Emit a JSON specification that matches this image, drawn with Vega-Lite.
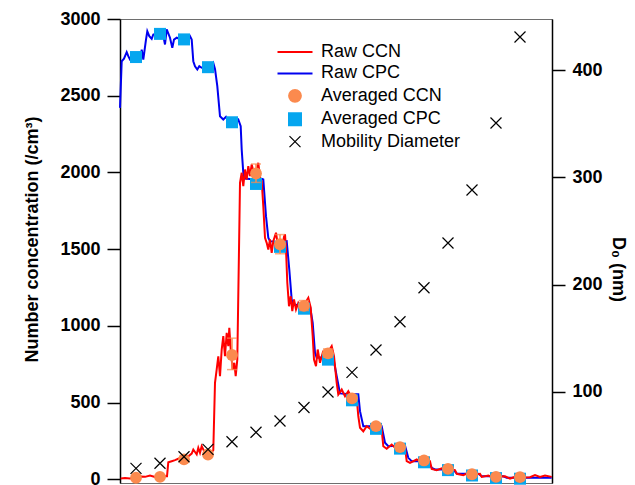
{
  "$schema": "https://vega.github.io/schema/vega-lite/v6.json",
  "width": 432,
  "height": 464,
  "autosize": {"type": "none"},
  "padding": {"left": 120, "top": 19, "right": 83, "bottom": 2},
  "background": "white",
  "config": {
    "view": {"stroke": "#6e6e6e", "strokeWidth": 1},
    "font": "Liberation Sans",
    "axis": {
      "grid": false,
      "domainColor": "black",
      "domainWidth": 1.5,
      "tickColor": "black",
      "tickWidth": 1.5,
      "tickSize": 13,
      "labelFont": "Liberation Sans",
      "labelFontSize": 18,
      "labelFontWeight": "bold",
      "labelColor": "black",
      "labelPadding": 7,
      "titleFont": "Liberation Sans",
      "titleFontSize": 18,
      "titleFontWeight": "bold",
      "titleColor": "black"
    },
    "legend": {
      "labelFont": "Liberation Sans",
      "labelFontSize": 18,
      "labelColor": "black",
      "symbolSize": 150,
      "labelOffset": 17,
      "rowPadding": 3.4
    }
  },
  "datasets": {
    "cpc": [
      {"t": 0, "cpc": 2421}, {"t": 1.7, "cpc": 2725}, {"t": 4, "cpc": 2741}, {"t": 6.7, "cpc": 2784},
      {"t": 8.3, "cpc": 2758}, {"t": 10, "cpc": 2736}, {"t": 13, "cpc": 2750}, {"t": 16, "cpc": 2752},
      {"t": 19, "cpc": 2748}, {"t": 20.7, "cpc": 2747}, {"t": 21.7, "cpc": 2801}, {"t": 23.3, "cpc": 2736},
      {"t": 26, "cpc": 2866}, {"t": 27.3, "cpc": 2920}, {"t": 29.3, "cpc": 2888}, {"t": 31.7, "cpc": 2871},
      {"t": 33.3, "cpc": 2899}, {"t": 37, "cpc": 2905}, {"t": 40, "cpc": 2903}, {"t": 43, "cpc": 2900},
      {"t": 45, "cpc": 2834}, {"t": 46.7, "cpc": 2932}, {"t": 50, "cpc": 2878}, {"t": 52.3, "cpc": 2812},
      {"t": 54, "cpc": 2866}, {"t": 56.7, "cpc": 2878}, {"t": 60, "cpc": 2870}, {"t": 64, "cpc": 2867},
      {"t": 68, "cpc": 2870}, {"t": 70, "cpc": 2888}, {"t": 71.7, "cpc": 2866}, {"t": 73.3, "cpc": 2725},
      {"t": 75, "cpc": 2692}, {"t": 77.3, "cpc": 2671}, {"t": 79.3, "cpc": 2692}, {"t": 81.7, "cpc": 2682},
      {"t": 85, "cpc": 2686}, {"t": 88, "cpc": 2686}, {"t": 91, "cpc": 2690}, {"t": 93.3, "cpc": 2714},
      {"t": 95, "cpc": 2675}, {"t": 97.3, "cpc": 2562}, {"t": 100, "cpc": 2366}, {"t": 103.3, "cpc": 2345},
      {"t": 106, "cpc": 2362}, {"t": 109, "cpc": 2330}, {"t": 112, "cpc": 2327}, {"t": 115, "cpc": 2330},
      {"t": 118.3, "cpc": 2345}, {"t": 120.7, "cpc": 2301}, {"t": 121.7, "cpc": 2149}, {"t": 123.3, "cpc": 1998},
      {"t": 124.5, "cpc": 1960}, {"t": 130, "cpc": 1958}, {"t": 136, "cpc": 1955}, {"t": 141.7, "cpc": 1958},
      {"t": 143.3, "cpc": 1954}, {"t": 146, "cpc": 1715}, {"t": 148.3, "cpc": 1574}, {"t": 150, "cpc": 1552},
      {"t": 160, "cpc": 1545}, {"t": 166.7, "cpc": 1552}, {"t": 169.3, "cpc": 1367}, {"t": 171.7, "cpc": 1172},
      {"t": 173.3, "cpc": 1139}, {"t": 180, "cpc": 1135}, {"t": 190, "cpc": 1128}, {"t": 192.7, "cpc": 1020},
      {"t": 195, "cpc": 824}, {"t": 196.7, "cpc": 792}, {"t": 205, "cpc": 795}, {"t": 213.3, "cpc": 792},
      {"t": 216.7, "cpc": 672}, {"t": 220, "cpc": 560}, {"t": 230, "cpc": 555}, {"t": 238.3, "cpc": 555},
      {"t": 240, "cpc": 444}, {"t": 243.3, "cpc": 346}, {"t": 252, "cpc": 346}, {"t": 261.7, "cpc": 346},
      {"t": 265, "cpc": 238}, {"t": 268.3, "cpc": 216}, {"t": 277, "cpc": 218}, {"t": 285, "cpc": 220},
      {"t": 288.3, "cpc": 140}, {"t": 291.7, "cpc": 118}, {"t": 300, "cpc": 118}, {"t": 308.3, "cpc": 118},
      {"t": 311.7, "cpc": 75}, {"t": 315, "cpc": 64}, {"t": 325, "cpc": 64}, {"t": 333.3, "cpc": 64},
      {"t": 336.7, "cpc": 38}, {"t": 348, "cpc": 36}, {"t": 358.3, "cpc": 36}, {"t": 361.7, "cpc": 20},
      {"t": 375, "cpc": 20}, {"t": 383.3, "cpc": 20}, {"t": 386.7, "cpc": 10}, {"t": 400, "cpc": 10},
      {"t": 415, "cpc": 11}, {"t": 431.7, "cpc": 10}
    ],
    "ccn": [
      {"t": 0.7, "ccn": 5}, {"t": 5, "ccn": 8}, {"t": 10, "ccn": 6}, {"t": 15, "ccn": 14},
      {"t": 20, "ccn": 18}, {"t": 25, "ccn": 16}, {"t": 30, "ccn": 25}, {"t": 35, "ccn": 15},
      {"t": 40, "ccn": 12}, {"t": 45, "ccn": 20}, {"t": 47, "ccn": 20}, {"t": 48.3, "ccn": 111},
      {"t": 51.7, "ccn": 118}, {"t": 55, "ccn": 125}, {"t": 58.3, "ccn": 134}, {"t": 61, "ccn": 140},
      {"t": 63.3, "ccn": 128}, {"t": 65, "ccn": 145}, {"t": 68.3, "ccn": 150}, {"t": 71.7, "ccn": 168},
      {"t": 73.3, "ccn": 194}, {"t": 76.7, "ccn": 162}, {"t": 78.3, "ccn": 205}, {"t": 80, "ccn": 173},
      {"t": 81.7, "ccn": 216}, {"t": 84, "ccn": 185}, {"t": 87.3, "ccn": 170}, {"t": 90, "ccn": 162},
      {"t": 93.3, "ccn": 190}, {"t": 95, "ccn": 629}, {"t": 96.7, "ccn": 716}, {"t": 98.3, "ccn": 802},
      {"t": 100, "ccn": 672}, {"t": 101.7, "ccn": 846}, {"t": 103.3, "ccn": 933}, {"t": 105, "ccn": 802},
      {"t": 106.7, "ccn": 955}, {"t": 108.3, "ccn": 868}, {"t": 109.3, "ccn": 987}, {"t": 111, "ccn": 820},
      {"t": 112.7, "ccn": 716}, {"t": 114.3, "ccn": 759}, {"t": 115.7, "ccn": 672}, {"t": 117.3, "ccn": 781},
      {"t": 119, "ccn": 1498}, {"t": 120, "ccn": 1932}, {"t": 121.7, "ccn": 1998}, {"t": 123.3, "ccn": 1910},
      {"t": 125, "ccn": 2019}, {"t": 126.7, "ccn": 1954}, {"t": 128.3, "ccn": 2041}, {"t": 130, "ccn": 1976},
      {"t": 131.7, "ccn": 2052}, {"t": 134, "ccn": 1990}, {"t": 136.7, "ccn": 2010}, {"t": 138.3, "ccn": 2063},
      {"t": 140, "ccn": 1965}, {"t": 141.7, "ccn": 1943}, {"t": 143.3, "ccn": 1780}, {"t": 145, "ccn": 1574},
      {"t": 146.7, "ccn": 1541}, {"t": 148.3, "ccn": 1498}, {"t": 150, "ccn": 1563}, {"t": 151.7, "ccn": 1476},
      {"t": 153.3, "ccn": 1552}, {"t": 156, "ccn": 1607}, {"t": 158, "ccn": 1520}, {"t": 160, "ccn": 1540},
      {"t": 162, "ccn": 1500}, {"t": 164, "ccn": 1580}, {"t": 165, "ccn": 1596}, {"t": 166, "ccn": 1498},
      {"t": 167.3, "ccn": 1281}, {"t": 169, "ccn": 1128}, {"t": 170.7, "ccn": 1193}, {"t": 172.3, "ccn": 1096},
      {"t": 174, "ccn": 1172}, {"t": 176, "ccn": 1107}, {"t": 178.3, "ccn": 1150}, {"t": 181, "ccn": 1120},
      {"t": 184.3, "ccn": 1140}, {"t": 188.3, "ccn": 1183}, {"t": 190.7, "ccn": 1118}, {"t": 192.7, "ccn": 933},
      {"t": 194, "ccn": 781}, {"t": 196, "ccn": 737}, {"t": 197.7, "ccn": 846}, {"t": 200, "ccn": 759},
      {"t": 202.7, "ccn": 824}, {"t": 205, "ccn": 790}, {"t": 208, "ccn": 830}, {"t": 211.7, "ccn": 868},
      {"t": 214, "ccn": 802}, {"t": 216.7, "ccn": 629}, {"t": 218.3, "ccn": 553}, {"t": 221.7, "ccn": 585},
      {"t": 225, "ccn": 541}, {"t": 228.3, "ccn": 574}, {"t": 232, "ccn": 530}, {"t": 236.7, "ccn": 531},
      {"t": 238.3, "ccn": 411}, {"t": 240, "ccn": 336}, {"t": 243.3, "ccn": 313}, {"t": 246.7, "ccn": 346},
      {"t": 250, "ccn": 330}, {"t": 255, "ccn": 335}, {"t": 261.7, "ccn": 324}, {"t": 263.3, "ccn": 216},
      {"t": 266.7, "ccn": 199}, {"t": 271.7, "ccn": 227}, {"t": 276, "ccn": 200}, {"t": 280, "ccn": 210},
      {"t": 285, "ccn": 205}, {"t": 286.7, "ccn": 118}, {"t": 290, "ccn": 107}, {"t": 296.7, "ccn": 129},
      {"t": 300, "ccn": 115}, {"t": 305, "ccn": 120}, {"t": 310, "ccn": 118}, {"t": 311.7, "ccn": 68},
      {"t": 316.7, "ccn": 60}, {"t": 323.3, "ccn": 75}, {"t": 328, "ccn": 65}, {"t": 335, "ccn": 60},
      {"t": 336.7, "ccn": 36}, {"t": 343.3, "ccn": 27}, {"t": 348.3, "ccn": 42}, {"t": 353, "ccn": 30},
      {"t": 360, "ccn": 36}, {"t": 361.7, "ccn": 16}, {"t": 368.3, "ccn": 25}, {"t": 373.3, "ccn": 10},
      {"t": 378, "ccn": 18}, {"t": 385, "ccn": 20}, {"t": 390, "ccn": 5}, {"t": 396.7, "ccn": 20},
      {"t": 402, "ccn": 12}, {"t": 410, "ccn": 14}, {"t": 415, "ccn": 27}, {"t": 420, "ccn": 16},
      {"t": 425, "ccn": 25}, {"t": 431.7, "ccn": 16}
    ],
    "avg": [
      {"t": 16, "ccn": 10, "cpc": 2752, "d0": 28.6},
      {"t": 40, "ccn": 16, "cpc": 2903, "d0": 33.3},
      {"t": 64, "ccn": 130, "cpc": 2867, "d0": 39.4},
      {"t": 88, "ccn": 162, "cpc": 2686, "d0": 46.3},
      {"t": 112, "ccn": 810, "cpc": 2327, "d0": 53.4},
      {"t": 136, "ccn": 1993, "cpc": 1925, "d0": 62.2},
      {"t": 160, "ccn": 1532, "cpc": 1515, "d0": 72.7},
      {"t": 184, "ccn": 1130, "cpc": 1112, "d0": 85.3},
      {"t": 208, "ccn": 821, "cpc": 780, "d0": 99.8},
      {"t": 232, "ccn": 528, "cpc": 515, "d0": 118.1},
      {"t": 256, "ccn": 347, "cpc": 329, "d0": 138.9},
      {"t": 280, "ccn": 210, "cpc": 200, "d0": 165.3},
      {"t": 304, "ccn": 123, "cpc": 111, "d0": 197.0},
      {"t": 328, "ccn": 68, "cpc": 60, "d0": 238.7},
      {"t": 352, "ccn": 33, "cpc": 25, "d0": 288.1},
      {"t": 376, "ccn": 16, "cpc": 8, "d0": 350.6},
      {"t": 400, "ccn": 14, "cpc": 4, "d0": 430.8}
    ],
    "ccnErr": [
      {"t": 112, "lo": 715, "hi": 920},
      {"t": 136, "lo": 1935, "hi": 2055},
      {"t": 160, "lo": 1470, "hi": 1595},
      {"t": 184, "lo": 1100, "hi": 1165},
      {"t": 208, "lo": 795, "hi": 850},
      {"t": 232, "lo": 510, "hi": 545}
    ]
  },
  "layer": [
    {
      "layer": [
        {
          "data": {"name": "cpc"},
          "mark": {"type": "line", "strokeWidth": 2, "interpolate": "linear"},
          "encoding": {
            "x": {"field": "t", "type": "quantitative", "scale": {"domain": [0, 432], "nice": false, "zero": false}, "axis": null},
            "y": {
              "field": "cpc", "type": "quantitative", "title": "Number concentration (/cm³)",
              "scale": {"domain": [-24, 3000], "nice": false, "zero": false},
              "axis": {"orient": "left", "format": "d", "values": [0, 500, 1000, 1500, 2000, 2500, 3000], "titlePadding": 18, "titleY": 220}
            },
            "color": {
              "datum": "Raw CPC", "type": "nominal",
              "scale": {
                "domain": ["Raw CCN", "Raw CPC", "Averaged CCN", "Averaged CPC", "Mobility Diameter"],
                "range": ["#ff0000", "#0000f0", "#fb8a4e", "#06a6ef", "black"]
              },
              "legend": {
                "title": null,
                "orient": "none",
                "legendX": 166,
                "legendY": 24,
                "encode": {
                  "symbols": {
                    "update": {
                      "shape": {"signal": "datum.value === 'Raw CCN' || datum.value === 'Raw CPC' ? 'stroke' : datum.value === 'Averaged CCN' ? 'circle' : datum.value === 'Averaged CPC' ? 'square' : 'M-1,-1L1,1M-1,1L1,-1'"},
                      "size": {"signal": "datum.value === 'Raw CCN' || datum.value === 'Raw CPC' ? 1225 : datum.value === 'Averaged CCN' ? 140 : datum.value === 'Averaged CPC' ? 144 : 121"},
                      "fill": {"signal": "datum.value === 'Averaged CCN' || datum.value === 'Averaged CPC' ? scale('color', datum.value) : 'transparent'"},
                      "stroke": {"signal": "datum.value === 'Averaged CCN' || datum.value === 'Averaged CPC' ? 'transparent' : scale('color', datum.value)"},
                      "strokeWidth": {"signal": "datum.value === 'Mobility Diameter' ? 1.2 : 2"},
                      "opacity": {"value": 1}
                    }
                  }
                }
              }
            }
          }
        },
        {
          "data": {"name": "ccn"},
          "mark": {"type": "line", "strokeWidth": 2, "interpolate": "linear"},
          "encoding": {
            "x": {"field": "t", "type": "quantitative"},
            "y": {"field": "ccn", "type": "quantitative", "title": "Number concentration (/cm³)"},
            "color": {"datum": "Raw CCN", "type": "nominal"}
          }
        },
        {
          "data": {"name": "avg"},
          "mark": {"type": "point", "shape": "square", "filled": true, "size": 144, "opacity": 1},
          "encoding": {
            "x": {"field": "t", "type": "quantitative"},
            "y": {"field": "cpc", "type": "quantitative", "title": "Number concentration (/cm³)"},
            "color": {"datum": "Averaged CPC", "type": "nominal"}
          }
        },
        {
          "data": {"name": "ccnErr"},
          "mark": {"type": "rule", "color": "#fb8a4e", "strokeWidth": 1.5},
          "encoding": {
            "x": {"field": "t", "type": "quantitative"},
            "y": {"field": "lo", "type": "quantitative", "title": "Number concentration (/cm³)"},
            "y2": {"field": "hi"}
          }
        },
        {
          "data": {"name": "ccnErr"},
          "mark": {"type": "tick", "orient": "horizontal", "color": "#fb8a4e", "thickness": 1.5, "size": 10},
          "encoding": {
            "x": {"field": "t", "type": "quantitative"},
            "y": {"field": "lo", "type": "quantitative", "title": "Number concentration (/cm³)"}
          }
        },
        {
          "data": {"name": "ccnErr"},
          "mark": {"type": "tick", "orient": "horizontal", "color": "#fb8a4e", "thickness": 1.5, "size": 10},
          "encoding": {
            "x": {"field": "t", "type": "quantitative"},
            "y": {"field": "hi", "type": "quantitative", "title": "Number concentration (/cm³)"}
          }
        },
        {
          "data": {"name": "avg"},
          "mark": {"type": "point", "shape": "circle", "filled": true, "size": 140, "opacity": 1},
          "encoding": {
            "x": {"field": "t", "type": "quantitative"},
            "y": {"field": "ccn", "type": "quantitative", "title": "Number concentration (/cm³)"},
            "color": {"datum": "Averaged CCN", "type": "nominal"}
          }
        }
      ]
    },
    {
      "data": {"name": "avg"},
      "mark": {"type": "point", "shape": "M-1,-1L1,1M-1,1L1,-1", "filled": false, "size": 121, "strokeWidth": 1.2, "opacity": 1},
      "encoding": {
        "x": {"field": "t", "type": "quantitative"},
        "y": {
          "field": "d0", "type": "quantitative", "title": "D₀ (nm)",
          "scale": {"domain": [14.9, 447.6], "nice": false, "zero": false},
          "axis": {"orient": "right", "values": [100, 200, 300, 400], "titlePadding": 6, "titleY": 250}
        },
        "color": {"datum": "Mobility Diameter", "type": "nominal"}
      }
    }
  ],
  "resolve": {"scale": {"y": "independent"}}
}
